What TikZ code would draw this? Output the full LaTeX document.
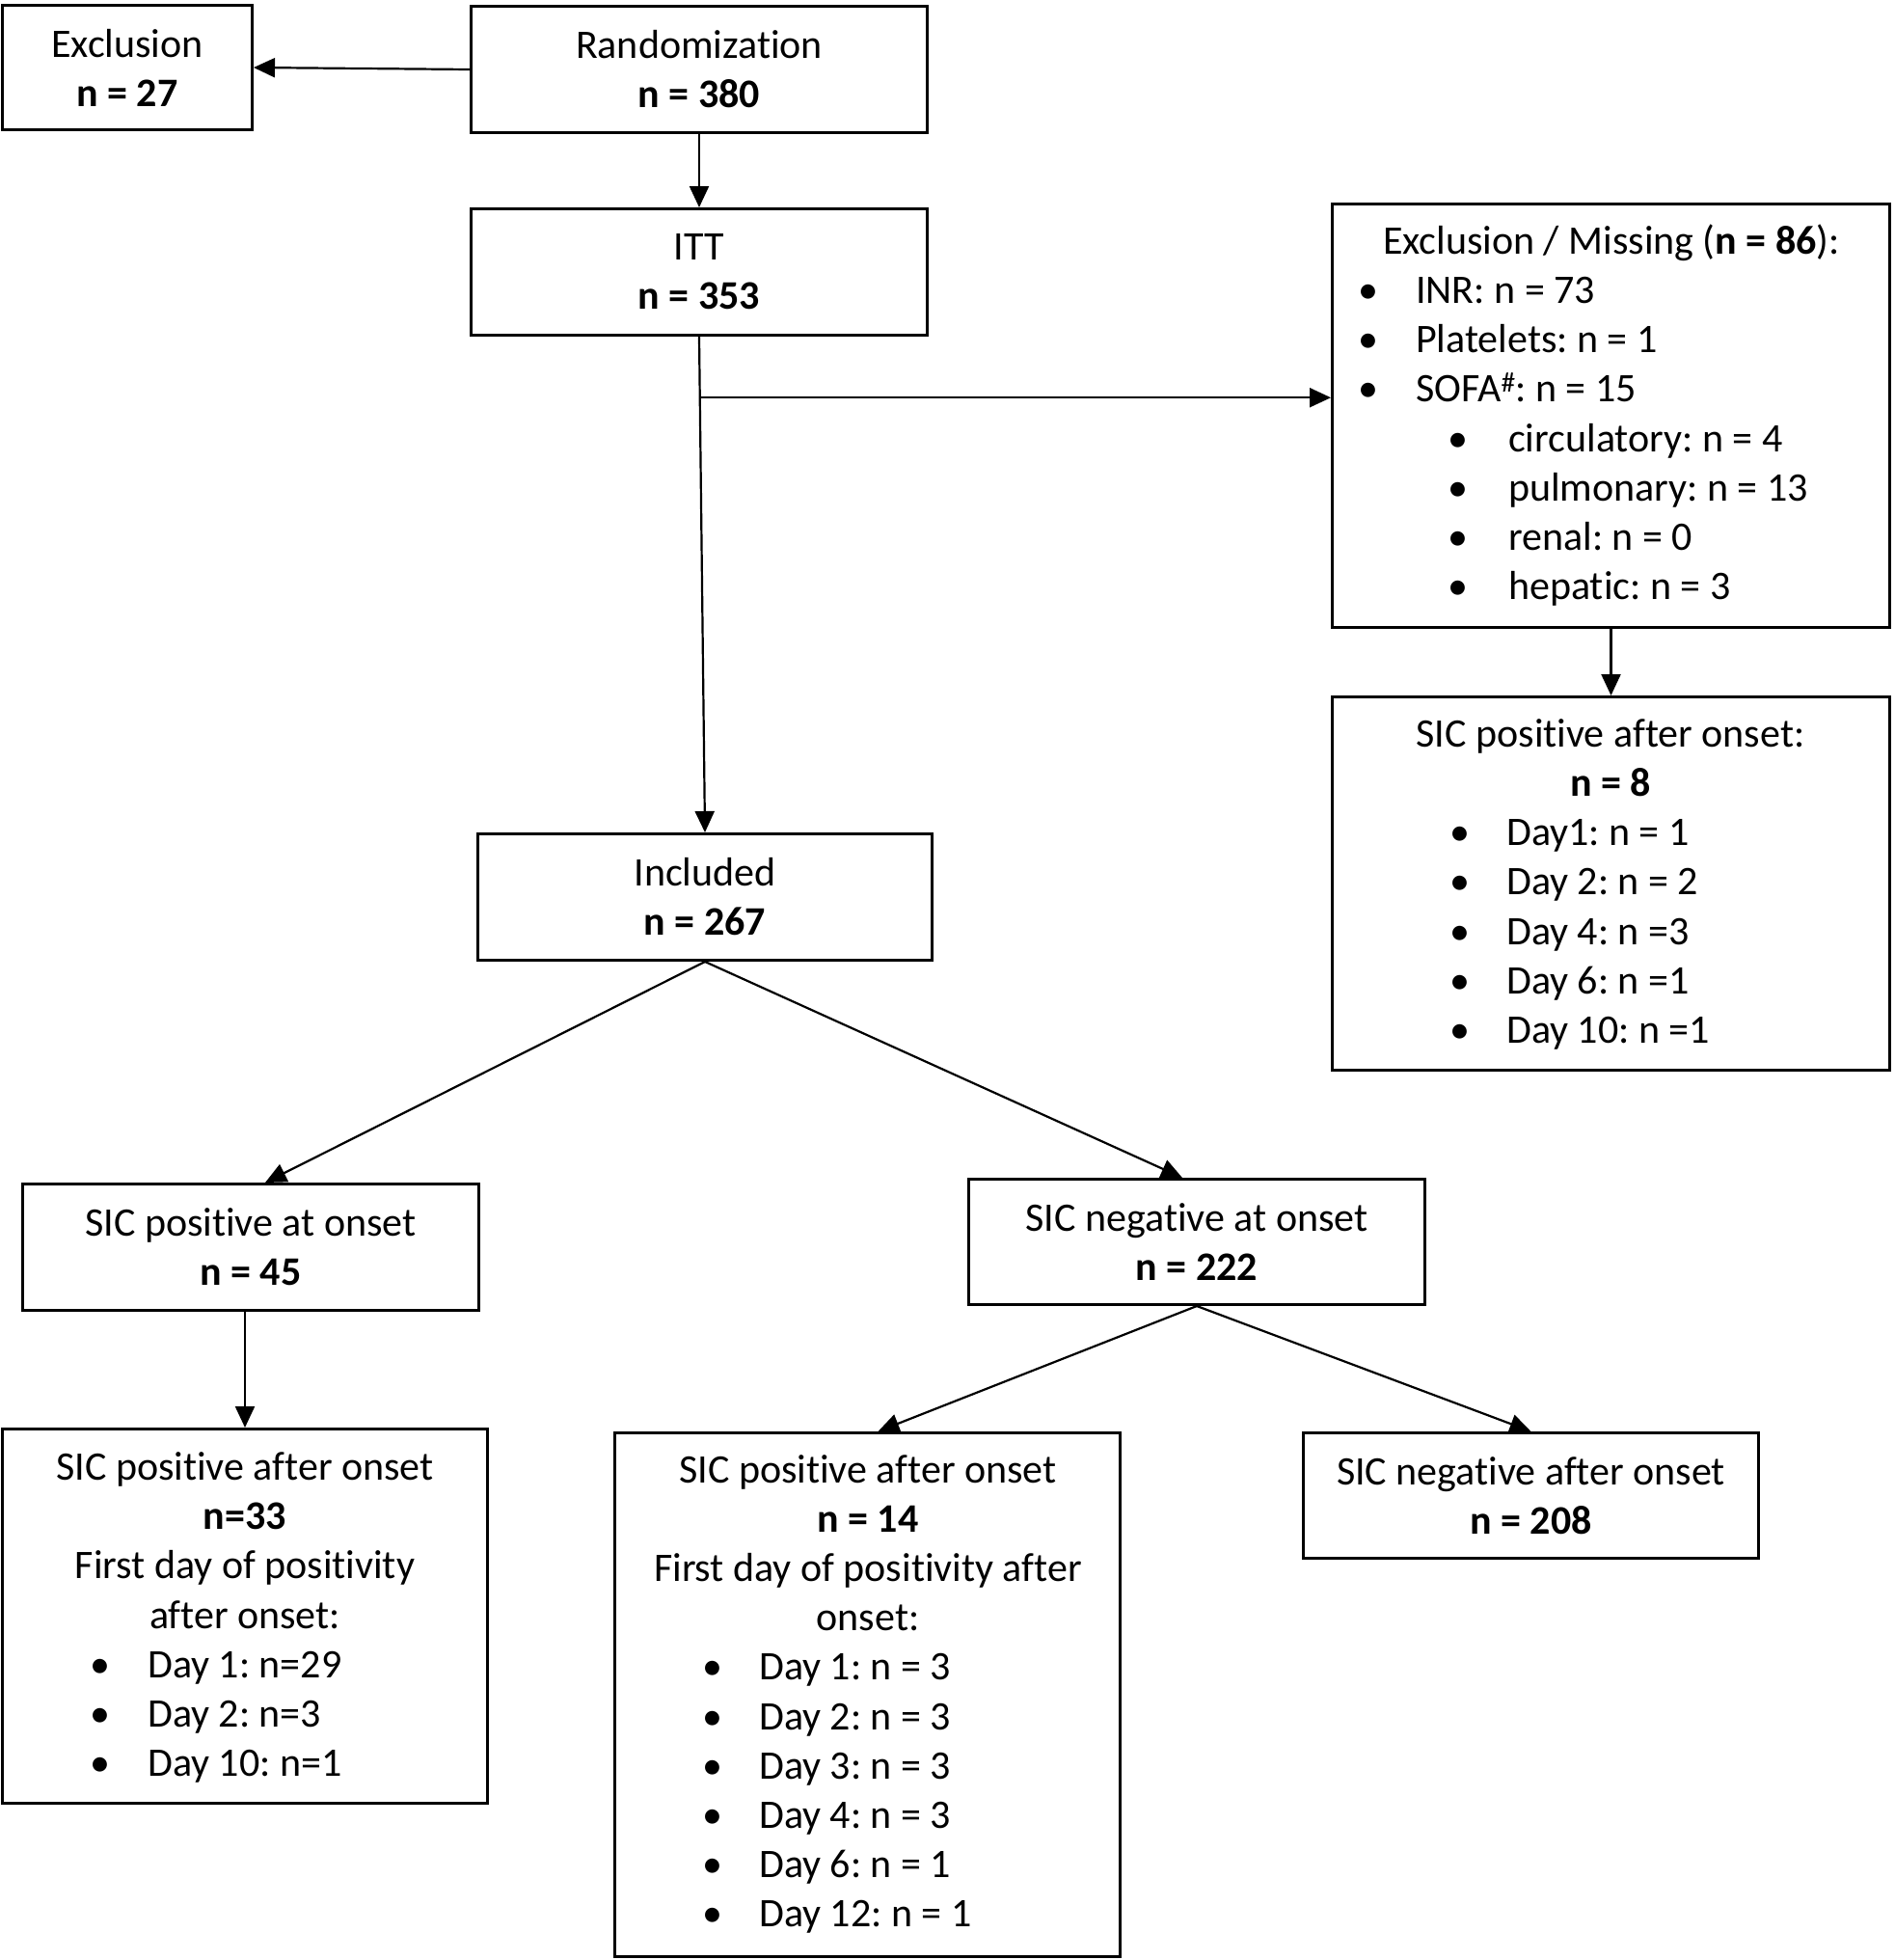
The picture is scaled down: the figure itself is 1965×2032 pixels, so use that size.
\documentclass[tikz,border=0pt]{standalone}
\usepackage{fontspec}
\setmainfont[Ligatures=NoCommon]{Carlito}
\frenchspacing
\usetikzlibrary{calc}
\usetikzlibrary{arrows.meta}

\tikzset{
	box/.style={draw, line width=3pt, inner sep=0pt, align=center},
	txt/.style={anchor=base, inner sep=0pt},
	itm/.style={anchor=base west, inner sep=0pt},
	flow/.style={line width=2.2pt, -{Triangle[length=22pt,width=20pt]}}
}

\begin{document}
\begin{tikzpicture}[x=1pt,y=-1pt,font=\fontsize{42}{51}\selectfont]
\useasboundingbox (0,0) rectangle (1965,2032);
% top
\node[box,minimum width=259pt,minimum height=129pt] (excl) at (132,70) {Exclusion\\\textbf{n = 27}};
\node[box,minimum width=473pt,minimum height=131pt] (rand) at (725,72) {Randomization\\\textbf{n = 380}};
\node[box,minimum width=473pt,minimum height=131pt] (itt) at (725,282) {ITT\\\textbf{n = 353}};
\node[box,minimum width=471pt,minimum height=131pt] (incl) at (731,930) {Included\\\textbf{n = 267}};
% right column
\node[box,minimum width=578pt,minimum height=439pt] (miss) at (1670.5,431) {};
\node[box,minimum width=578pt,minimum height=387pt] (sicR) at (1670.5,916) {};
\node[txt] (missH) at (1671,263) {Exclusion / Missing (\textbf{n = 86}):};
\foreach \yy/\lbl in {314/INR: n = 73, 365/Platelets: n = 1, 416/SOFA\textsuperscript{\#}: n = 15} {
	\node[txt] at (1419,\yy) {\textbullet};
	\node[itm] at (1468,\yy) {\lbl};
}
\foreach \yy/\lbl in {468/circulatory: n = 4, 519/pulmonary: n = 13, 570/renal: n = 0, 621/hepatic: n = 3} {
	\node[txt] at (1512,\yy) {\textbullet};
	\node[itm] at (1564,\yy) {\lbl};
}
\node[txt] (sicRH) at (1670,774) {SIC positive after onset:};
\node[txt] (sicRn) at (1670,825) {\textbf{n = 8}};
\foreach \yy/\lbl in {876/Day1: n = 1, 927/Day 2: n = 2, 979/Day 4: n =3, 1030/Day 6: n =1, 1081/Day 10: n =1} {
	\node[txt] at (1514,\yy) {\textbullet};
	\node[itm] at (1562,\yy) {\lbl};
}
% onset
\node[box,minimum width=473pt,minimum height=131pt] (pos0) at (260,1293) {SIC positive at onset\\\textbf{n = 45}};
\node[box,minimum width=473pt,minimum height=130pt] (neg0) at (1241,1287.5) {SIC negative at onset\\\textbf{n = 222}};
% after onset
\node[box,minimum width=503pt,minimum height=388pt] (posL) at (254,1675.5) {};
\node[txt] at (254,1534) {SIC positive after onset};
\node[txt] at (254,1585) {\textbf{n=33}};
\node[txt] at (254,1636) {First day of positivity};
\node[txt] at (254,1688) {after onset:};
\foreach \yy/\lbl in {1739/Day 1: n=29, 1790/Day 2: n=3, 1841/Day 10: n=1} {
	\node[txt] at (104,\yy) {\textbullet};
	\node[itm] at (153,\yy) {\lbl};
}
\node[box,minimum width=524pt,minimum height=543pt] (posM) at (899.5,1757) {};
\node[txt] at (900,1537) {SIC positive after onset};
\node[txt] at (900,1588) {\textbf{n = 14}};
\node[txt] at (900,1639) {First day of positivity after};
\node[txt] at (900,1690) {onset:};
\foreach \yy/\lbl in {1741/Day 1: n = 3, 1793/Day 2: n = 3, 1844/Day 3: n = 3, 1895/Day 4: n = 3, 1946/Day 6: n = 1, 1997/Day 12: n = 1} {
	\node[txt] at (739,\yy) {\textbullet};
	\node[itm] at (787,\yy) {\lbl};
}
\node[box,minimum width=472pt,minimum height=130pt] (negR) at (1587.5,1550.5) {SIC negative after onset\\\textbf{n = 208}};
% arrows
\draw[flow] (rand.west) -- (excl.east);
\draw[flow] (rand.south) -- (itt.north);
\draw[flow] (itt.south) -- (incl.north);
\coordinate (br) at ($(itt.south)!0.123!(incl.north)$);
\draw[flow] (br) -- (br -| miss.west);
\draw[flow] (miss.south) -- (sicR.north);
\draw[flow] (incl.south) -- ([xshift=15pt]pos0.north);
\draw[flow] (incl.south) -- ([xshift=-15pt]neg0.north);
\draw[flow] ([xshift=-6pt]pos0.south) -- (posL.north);
\draw[flow] (neg0.south) -- ([xshift=11pt]posM.north);
\draw[flow] (neg0.south) -- (negR.north);
\end{tikzpicture}
\end{document}
